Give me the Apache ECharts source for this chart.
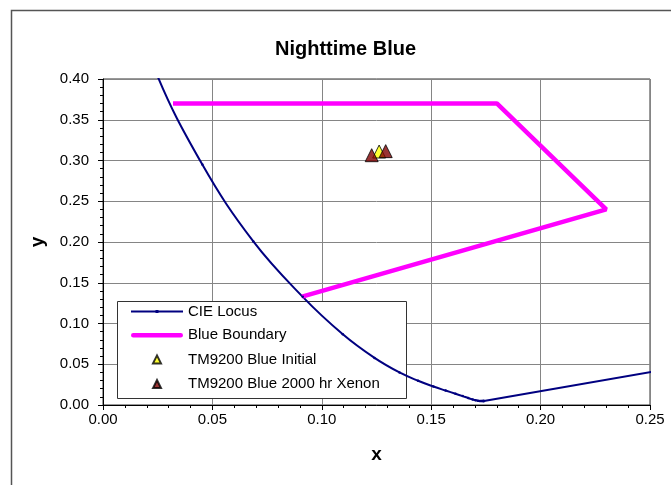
<!DOCTYPE html>
<html>
<head>
<meta charset="utf-8">
<script src="https://cdn.jsdelivr.net/npm/echarts@6/dist/echarts.min.js"></script>
<style>
  html, body { margin: 0; padding: 0; background: #fff; }
  #chart { width: 671px; height: 485px; }
</style>
</head>
<body>
<div id="chart"></div>
<script>
// CIE 1931 spectral locus, 380-500 nm in 5 nm steps
const locusX = [0.1741, 0.1740, 0.1738, 0.1736, 0.1733, 0.1730, 0.1726, 0.1721, 0.1714, 0.1703,
  0.1689, 0.1669, 0.1644, 0.1611, 0.1566, 0.1510, 0.1440, 0.1355, 0.1241, 0.1096,
  0.0913, 0.0687, 0.0454, 0.0235, 0.0082]
const locusY = [0.0050, 0.0050, 0.0049, 0.0049, 0.0048, 0.0048, 0.0048, 0.0048, 0.0051, 0.0058,
  0.0069, 0.0086, 0.0109, 0.0138, 0.0177, 0.0227, 0.0297, 0.0399, 0.0578, 0.0868,
  0.1327, 0.2007, 0.2950, 0.4127, 0.5384]
// purple line, 380 nm -> 780 nm
const purpleX = [0.1741, 0.7347]
const purpleY = [0.0050, 0.2653]

// Blue boundary corners
const boundaryX = [0.032, 0.180, 0.230, 0.091]
const boundaryY = [0.370, 0.370, 0.240, 0.133]

// Measured samples
const initialX = [0.1262]
const initialY = [0.3110]
const xenonX = [0.1228, 0.1292]
const xenonY = [0.3065, 0.3115]

const xTicks = { min: 0, max: 0.25, interval: 0.05 }
const yTicks = { min: 0, max: 0.40, interval: 0.05 }

const zip = (xs, ys) => xs.map((x, i) => [x, ys[i]])

const chart = echarts.init(document.getElementById('chart'))
const font = '"Liberation Sans", Arial, sans-serif'
const navy = '#000080'
const triIcon = 'path://M0,0 M28,28 M6,22 L14,6 L22,22 Z'

const axisCommon = {
  type: 'value',
  axisLine: { show: true, lineStyle: { color: '#000', width: 1 } },
  axisTick: { show: true, length: 5, lineStyle: { color: '#000' } },
  minorTick: { show: true, splitNumber: 5, length: 3, lineStyle: { color: '#000' } },
  splitLine: { show: true, lineStyle: { color: '#858585', width: 1 } },
  axisLabel: {
    color: '#000',
    fontSize: 15,
    fontFamily: font,
    formatter: v => v.toFixed(2)
  },
  nameLocation: 'middle',
  nameTextStyle: { color: '#000', fontSize: 19, fontWeight: 'bold', fontFamily: font }
}

chart.setOption({
  animation: false,
  backgroundColor: '#fff',
  title: {
    text: 'Nighttime Blue',
    left: 270,
    top: 34,
    textStyle: { fontSize: 20, fontWeight: 'bold', color: '#000', fontFamily: font }
  },
  grid: {
    left: 103,
    right: 21,
    top: 79,
    bottom: 80,
    show: true,
    borderColor: '#333',
    borderWidth: 1
  },
  xAxis: Object.assign({}, axisCommon, {
    min: xTicks.min, max: xTicks.max, interval: xTicks.interval,
    name: 'x', nameGap: 40,
    axisLabel: Object.assign({}, axisCommon.axisLabel, { margin: 7 })
  }),
  yAxis: Object.assign({}, axisCommon, {
    min: yTicks.min, max: yTicks.max, interval: yTicks.interval,
    name: 'y', nameGap: 56,
    axisLabel: Object.assign({}, axisCommon.axisLabel, { margin: 14 })
  }),
  graphic: [
    {
      type: 'rect',
      left: 9, top: 8,
      shape: { width: 720, height: 520 },
      style: { fill: 'none', stroke: '#555', lineWidth: 1.5 },
      z: 0, silent: true
    },
    {
      type: 'rect',
      left: 117, top: 301,
      shape: { width: 289, height: 97 },
      style: { fill: '#fff', stroke: '#333', lineWidth: 1 },
      z: 3, silent: true
    }
  ],
  legend: {
    orient: 'vertical',
    left: 131,
    top: 304,
    padding: 0,
    itemWidth: 52,
    itemHeight: 14,
    itemGap: 8.7,
    z: 5,
    textStyle: { color: '#000', fontSize: 15, fontFamily: font },
    data: [
      { name: 'CIE Locus', icon: 'path://M0,0 M52,14 M0,6.1 L52,6.1 L52,7.9 L0,7.9 Z M24.5,5.5 L27.5,5.5 L27.5,8.5 L24.5,8.5 Z' },
      { name: 'Blue Boundary', icon: 'path://M0,0 M52,14 M2,4.7 L50,4.7 A2.3,2.3 0 0 1 50,9.3 L2,9.3 A2.3,2.3 0 0 1 2,4.7 Z' },
      { name: 'TM9200 Blue Initial', icon: triIcon },
      { name: 'TM9200 Blue 2000 hr Xenon', icon: triIcon }
    ]
  },
  series: [
    {
      name: 'CIE Locus',
      type: 'line',
      data: zip(locusX, locusY),
      clip: true,
      smooth: 0.4,
      symbol: 'circle',
      symbolSize: 2.5,
      lineStyle: { color: navy, width: 2 },
      itemStyle: { color: navy }
    },
    {
      name: 'CIE Locus',
      type: 'line',
      data: zip(purpleX, purpleY),
      clip: true,
      symbol: 'circle',
      symbolSize: 2.5,
      lineStyle: { color: navy, width: 2 },
      itemStyle: { color: navy }
    },
    {
      name: 'Blue Boundary',
      type: 'line',
      data: zip(boundaryX, boundaryY),
      symbol: 'none',
      lineStyle: { color: '#ff00ff', width: 4.5 },
      itemStyle: { color: '#ff00ff' }
    },
    {
      name: 'TM9200 Blue Initial',
      type: 'scatter',
      data: zip(initialX, initialY),
      symbol: 'triangle',
      symbolSize: 13,
      itemStyle: { color: '#ffff00', borderColor: '#000', borderWidth: 1 }
    },
    {
      name: 'TM9200 Blue 2000 hr Xenon',
      type: 'scatter',
      data: zip(xenonX, xenonY),
      symbol: 'triangle',
      symbolSize: 13,
      itemStyle: { color: '#800000', borderColor: '#000', borderWidth: 1 }
    }
  ]
})
</script>
</body>
</html>
